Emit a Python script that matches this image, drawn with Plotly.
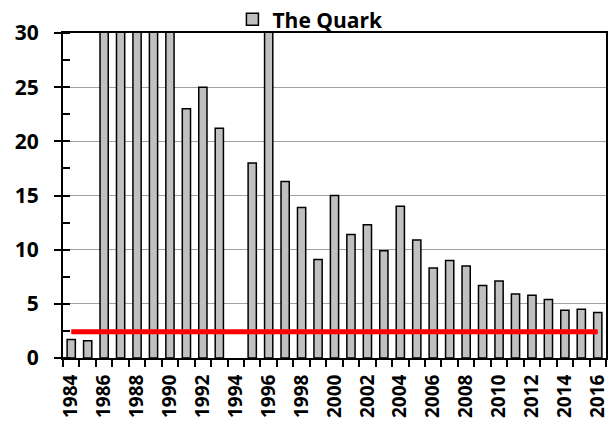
import plotly.graph_objects as go

years = list(range(1984, 2017))
values = [1.7, 1.6, 40, 40, 40, 40, 40, 23.0, 25.0, 21.2, None, 18.0, 40, 16.3, 13.9, 9.1,
          15.0, 11.4, 12.3, 9.9, 14.0, 10.9, 8.3, 9.0, 8.5, 6.7, 7.1, 5.9, 5.8, 5.4, 4.4, 4.5, 4.2]
threshold = 2.43
series_name = "The Quark"
label_years = list(range(1984, 2017, 2))

FONT = "Open Sans"

fig = go.Figure()
fig.add_trace(go.Bar(
    x=years, y=values, name=series_name, width=0.5,
    marker=dict(color="#C0C0C0", line=dict(color="black", width=1.5)),
))
fig.add_trace(go.Scatter(
    x=[years[0], years[-1]], y=[threshold, threshold], mode="lines",
    line=dict(color="#FF0000", width=5), showlegend=False, hoverinfo="skip",
))

fig.update_layout(
    width=616, height=428,
    margin=dict(l=63, r=10, t=33, b=70, autoexpand=False),
    paper_bgcolor="white", plot_bgcolor="white",
    font=dict(family=FONT, size=20, color="black"),
    showlegend=True,
    legend=dict(orientation="h", x=0.312, xanchor="left", y=0.978, yanchor="bottom",
                font=dict(family=FONT, size=21, color="black", weight="bold"),
                bgcolor="rgba(0,0,0,0)", itemwidth=30),
)
fig.update_xaxes(
    range=[1983.5, 2016.5],
    tickmode="array", tickvals=label_years, ticktext=[str(y) for y in label_years],
    tickangle=-90, ticks="", showgrid=False, zeroline=False,
    tickfont=dict(family=FONT, size=19, color="black", weight="bold"),
    ticklabelstandoff=7,
    showline=True, linecolor="black", linewidth=2, mirror=True,
    minor=dict(tickmode="linear", tick0=1983.5, dtick=1, ticks="outside", ticklen=7,
               tickcolor="black", tickwidth=1.5, showgrid=False),
)
fig.update_yaxes(
    range=[0, 30], tickmode="linear", tick0=0, dtick=5,
    ticks="outside", ticklen=7, tickcolor="black", tickwidth=1.5,
    showgrid=True, gridcolor="#A0A0A0", gridwidth=1, zeroline=False,
    tickfont=dict(family=FONT, size=21, color="black", weight="bold"),
    ticklabelstandoff=11,
    showline=True, linecolor="black", linewidth=2, mirror=True,
    minor=dict(tickmode="linear", tick0=0, dtick=2.5, ticks="inside", ticklen=7,
               tickcolor="black", tickwidth=1.5, showgrid=False),
)

fig.write_html("out.html", config={"displayModeBar": False},
               post_script="document.body.style.margin='0';")
